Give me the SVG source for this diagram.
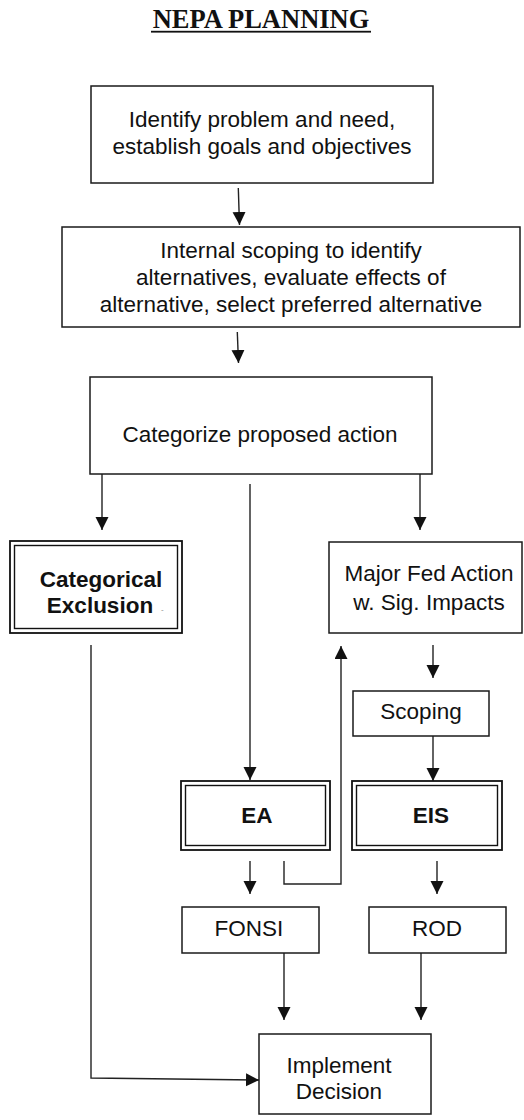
<svg xmlns="http://www.w3.org/2000/svg" width="524" height="1120" viewBox="0 0 524 1120">
  <style>
    .box { fill: #fff; stroke: #1a1a1a; stroke-width: 1.5; }
    .dbl-out { fill: #fff; stroke: #111; stroke-width: 1.8; }
    .dbl-in { fill: none; stroke: #111; stroke-width: 1.4; }
    .lbl { font-family: "Liberation Sans", Arial, sans-serif; font-size: 22.5px; fill: #111; text-anchor: middle; }
    .bold { font-weight: bold; }
    .title { font-family: "Liberation Serif", "Times New Roman", serif; font-size: 26.5px; font-weight: bold; fill: #111; text-anchor: middle; }
    .conn { fill: none; stroke: #222; stroke-width: 1.4; }
  </style>
  <defs>
    <marker id="arrow" markerUnits="userSpaceOnUse" markerWidth="14" markerHeight="14" refX="13" refY="6.5" orient="auto">
      <path d="M0,0 L13,6.5 L0,13 z" fill="#111"/>
    </marker>
  </defs>

  <rect width="524" height="1120" fill="#fff"/>

  <!-- heading -->
  <g id="title">
    <text class="title" x="261" y="28">NEPA PLANNING</text>
    <rect x="151" y="30.8" width="220" height="1.8" fill="#111"/>
  </g>

  <!-- connectors -->
  <g id="connectors">
    <path class="conn" d="M238.3,188 L239.5,225" marker-end="url(#arrow)"/>
    <path class="conn" d="M237.3,332 L238.5,363" marker-end="url(#arrow)"/>
    <path class="conn" d="M102,474 V530" marker-end="url(#arrow)"/>
    <path class="conn" d="M420,474 V530" marker-end="url(#arrow)"/>
    <path class="conn" d="M250,484 V780" marker-end="url(#arrow)"/>
    <path class="conn" d="M433,645 V678" marker-end="url(#arrow)"/>
    <path class="conn" d="M433,736 V781" marker-end="url(#arrow)"/>
    <path class="conn" d="M284,861 V884 H341 V646" marker-end="url(#arrow)"/>
    <path class="conn" d="M250,861 V894" marker-end="url(#arrow)"/>
    <path class="conn" d="M437,861 V894" marker-end="url(#arrow)"/>
    <path class="conn" d="M284,953 V1020" marker-end="url(#arrow)"/>
    <path class="conn" d="M421,953 V1020" marker-end="url(#arrow)"/>
    <path class="conn" d="M91,645 V1078 L259,1080" marker-end="url(#arrow)"/>
  </g>

  <g id="identify">
    <rect class="box" x="91" y="86" width="342" height="97"/>
    <text class="lbl" x="262" y="127">Identify problem and need,</text>
    <text class="lbl" x="262" y="154">establish goals and objectives</text>
  </g>

  <g id="internal-scoping">
    <rect class="box" x="62" y="227" width="458" height="100"/>
    <text class="lbl" x="291" y="258">Internal scoping to identify</text>
    <text class="lbl" x="291" y="285">alternatives, evaluate effects of</text>
    <text class="lbl" x="291" y="312">alternative, select preferred alternative</text>
  </g>

  <g id="categorize">
    <rect class="box" x="90" y="377" width="342" height="97"/>
    <text class="lbl" x="260" y="442">Categorize proposed action</text>
  </g>

  <g id="categorical-exclusion">
    <rect class="dbl-out" x="10" y="541" width="172" height="92"/>
    <rect class="dbl-in" x="14.5" y="545.5" width="163" height="83"/>
    <text class="lbl bold" x="101" y="587">Categorical</text>
    <text class="lbl bold" x="100" y="613">Exclusion</text>
    <text x="161" y="612" font-family="Liberation Sans, sans-serif" font-size="8" fill="#888">-</text>
  </g>

  <g id="major-fed-action">
    <rect class="box" x="329" y="542" width="193" height="91"/>
    <text class="lbl" x="429" y="581">Major Fed Action</text>
    <text class="lbl" x="429" y="610">w. Sig. Impacts</text>
  </g>

  <g id="scoping">
    <rect class="box" x="353" y="691" width="136" height="45"/>
    <text class="lbl" x="421" y="719">Scoping</text>
  </g>

  <g id="ea">
    <rect class="dbl-out" x="181" y="781" width="149" height="69"/>
    <rect class="dbl-in" x="185.5" y="785.5" width="140" height="60"/>
    <text class="lbl bold" x="257" y="823">EA</text>
  </g>

  <g id="eis">
    <rect class="dbl-out" x="352" y="781" width="150" height="69"/>
    <rect class="dbl-in" x="356.5" y="785.5" width="141" height="60"/>
    <text class="lbl bold" x="431" y="823">EIS</text>
  </g>

  <g id="fonsi">
    <rect class="box" x="182" y="907" width="137" height="46"/>
    <text class="lbl" x="249" y="936">FONSI</text>
  </g>

  <g id="rod">
    <rect class="box" x="369" y="907" width="137" height="46"/>
    <text class="lbl" x="437" y="936">ROD</text>
  </g>

  <g id="implement">
    <rect class="box" x="259" y="1034" width="172" height="80"/>
    <text class="lbl" x="339" y="1073">Implement</text>
    <text class="lbl" x="339" y="1099">Decision</text>
  </g>
</svg>
